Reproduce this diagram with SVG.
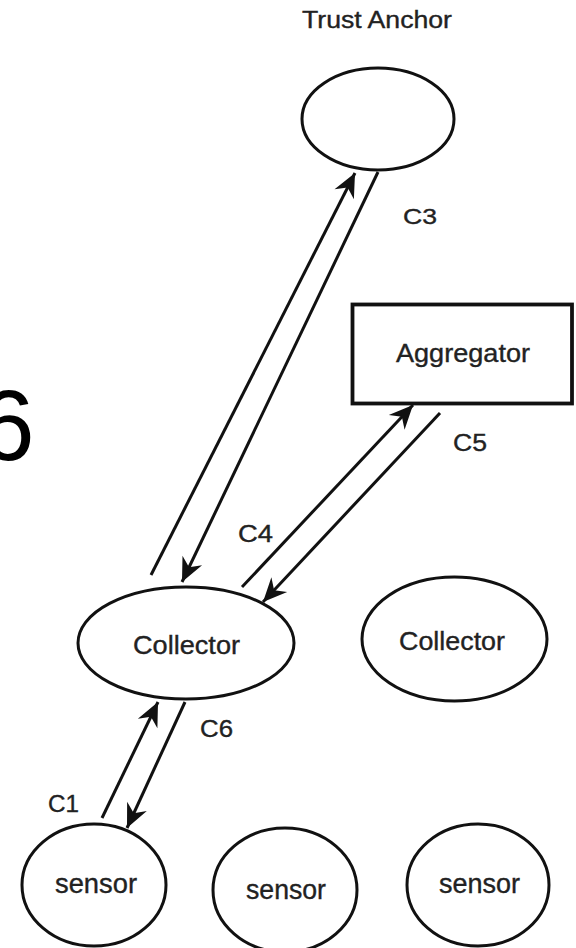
<svg xmlns="http://www.w3.org/2000/svg" width="576" height="948" viewBox="0 0 576 948">
<style>
.shape{fill:none;stroke:#111;stroke-width:3}
.box{fill:none;stroke:#111;stroke-width:3.8}
.lbl{font-family:"Liberation Sans",Arial,sans-serif;fill:#222;stroke:#222;stroke-width:0.35;text-anchor:start}
.edge{stroke:#111;stroke-width:3;fill:none}
</style>
<defs>
<marker id="ah" markerUnits="userSpaceOnUse" orient="auto" markerWidth="26" markerHeight="26" refX="0" refY="0" viewBox="-23 -11 24 22">
<path d="M0,0 L-22,-10 L-15,0 L-22,10 Z" fill="#111"/>
</marker>
</defs>
<rect width="576" height="948" fill="#fff"/>
<text x="-21" y="460" font-family="'Liberation Sans',Arial,sans-serif" font-size="100" fill="#000">6</text>
<g id="trust-anchor">
<text class="lbl" x="302" y="28" font-size="23" textLength="150" lengthAdjust="spacingAndGlyphs">Trust Anchor</text>
<ellipse class="shape" cx="378" cy="119" rx="76" ry="51"/>
</g>
<g id="aggregator">
<rect class="box" x="352.5" y="304.5" width="219.5" height="99"/>
<text class="lbl" x="396" y="362" font-size="25" textLength="134" lengthAdjust="spacingAndGlyphs">Aggregator</text>
</g>
<g id="collector-1">
<ellipse class="shape" cx="186" cy="643" rx="108" ry="56"/>
<text class="lbl" x="133" y="654" font-size="25" textLength="107" lengthAdjust="spacingAndGlyphs">Collector</text>
</g>
<g id="collector-2">
<ellipse class="shape" cx="454.5" cy="639" rx="92.5" ry="62"/>
<text class="lbl" x="399" y="650" font-size="25" textLength="106" lengthAdjust="spacingAndGlyphs">Collector</text>
</g>
<g id="sensor-1">
<ellipse class="shape" cx="94" cy="885" rx="72" ry="61"/>
<text class="lbl" x="55" y="893" font-size="27" textLength="82" lengthAdjust="spacingAndGlyphs">sensor</text>
</g>
<g id="sensor-2">
<ellipse class="shape" cx="285" cy="890" rx="72" ry="62"/>
<text class="lbl" x="246" y="899" font-size="27" textLength="80" lengthAdjust="spacingAndGlyphs">sensor</text>
</g>
<g id="sensor-3">
<ellipse class="shape" cx="478" cy="885" rx="71" ry="61"/>
<text class="lbl" x="439" y="893" font-size="27" textLength="81" lengthAdjust="spacingAndGlyphs">sensor</text>
</g>
<g id="connectors">
<line class="edge" x1="151" y1="575" x2="355" y2="173" marker-end="url(#ah)"/>
<line class="edge" x1="378" y1="172" x2="182" y2="582" marker-end="url(#ah)"/>
<line class="edge" x1="242" y1="587" x2="413" y2="405" marker-end="url(#ah)"/>
<line class="edge" x1="440" y1="413" x2="263" y2="602" marker-end="url(#ah)"/>
<line class="edge" x1="102" y1="818" x2="158" y2="702" marker-end="url(#ah)"/>
<line class="edge" x1="185" y1="702" x2="127" y2="828" marker-end="url(#ah)"/>
<text class="lbl" x="403" y="224" font-size="22" textLength="34" lengthAdjust="spacingAndGlyphs">C3</text>
<text class="lbl" x="453" y="451" font-size="23" textLength="34" lengthAdjust="spacingAndGlyphs">C5</text>
<text class="lbl" x="238" y="542" font-size="23" textLength="35" lengthAdjust="spacingAndGlyphs">C4</text>
<text class="lbl" x="200" y="737" font-size="23" textLength="33" lengthAdjust="spacingAndGlyphs">C6</text>
<text class="lbl" x="48" y="812" font-size="23" textLength="31" lengthAdjust="spacingAndGlyphs">C1</text>
</g>
</svg>
